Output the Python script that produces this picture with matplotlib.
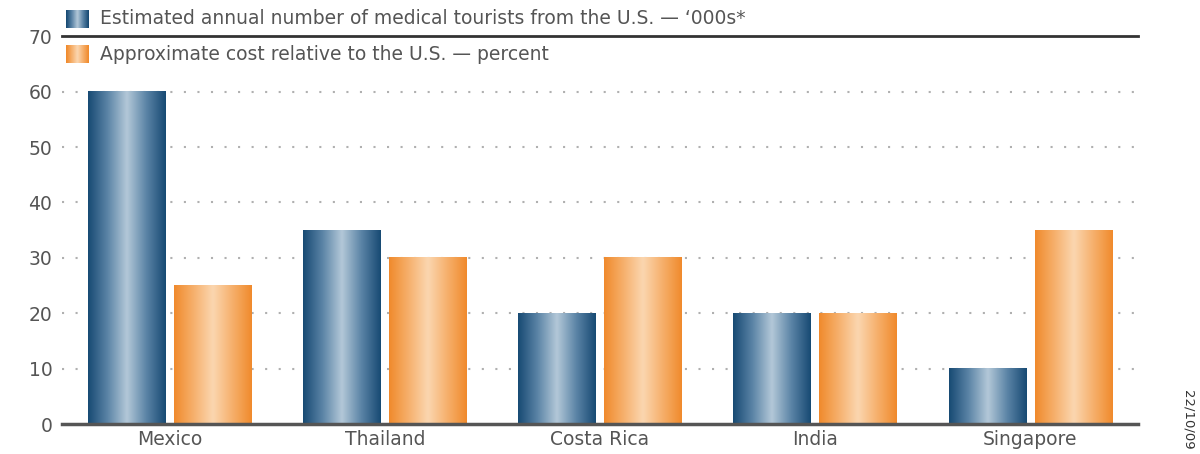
import numpy as np
import matplotlib.pyplot as plt
from matplotlib.colors import LinearSegmentedColormap

plt.rcParams['font.family'] = ['DejaVu Sans']

# Data
countries = ['Mexico', 'Thailand', 'Costa Rica', 'India', 'Singapore']
tourists_000s = [60, 35, 20, 20, 10]
cost_percent = [25, 30, 30, 20, 35]
series_labels = ["Estimated annual number of medical tourists from the U.S. \u2014 \u2018000s*",
                 "Approximate cost relative to the U.S. \u2014 percent"]

# Shaded "cylinder" colour maps
blue_cmap = LinearSegmentedColormap.from_list('blue', ['#174a73', '#5b84a6', '#b3c8d8', '#5b84a6', '#174a73'])
orange_cmap = LinearSegmentedColormap.from_list('orange', ['#f08a2c', '#f6b06c', '#fbd6b0', '#f6b06c', '#f08a2c'])
grad = np.linspace(0, 1, 256).reshape(1, -1)


def shade_bars(ax, bars, cmap):
    for b in bars:
        x0, w, h = b.get_x(), b.get_width(), b.get_height()
        ax.imshow(grad, cmap=cmap, aspect='auto', extent=(x0, x0 + w, 0, h),
                  zorder=3, interpolation='bicubic')
        b.set_visible(False)


fig = plt.figure(figsize=(12, 4.54), dpi=100)
ax = fig.add_axes([0.0517, 0.066, 0.8966, 0.8541])

x = np.arange(len(countries))
width = 0.36
offset = 0.2
b1 = ax.bar(x - offset, tourists_000s, width)
b2 = ax.bar(x + offset, cost_percent, width)
shade_bars(ax, b1, blue_cmap)
shade_bars(ax, b2, orange_cmap)

ax.set_xlim(-0.5, len(countries) - 0.5)
ax.set_ylim(0, 70)
ax.set_yticks(range(0, 71, 10))
ax.set_xticks(x)
ax.set_xticklabels(countries)
ax.tick_params(axis='both', length=0, labelsize=13.5, labelcolor='#555555')
ax.tick_params(axis='x', pad=4)
ax.tick_params(axis='y', pad=7)

# dotted gridlines
for yv in range(10, 70, 10):
    ax.axhline(yv, color='#b0b0b0', linestyle=(0, (1, 5.5)), linewidth=1.5, zorder=1)
ax.axhline(70, color='#333333', linewidth=2, zorder=2, clip_on=False)

for s in ['top', 'right', 'left']:
    ax.spines[s].set_visible(False)
ax.spines['bottom'].set_color('#555555')
ax.spines['bottom'].set_linewidth(2.5)
ax.spines['bottom'].set_zorder(4)

# legend: gradient swatches + text
for i, (lab, cmap) in enumerate(zip(series_labels, [blue_cmap, orange_cmap])):
    ytop = [10, 45][i]
    sw = fig.add_axes([66 / 1200, 1 - (ytop + 18) / 454, 23 / 1200, 18 / 454])
    sw.imshow(np.linspace(0, 1, 32).reshape(1, -1), cmap=cmap, aspect='auto')
    sw.axis('off')
    fig.text(100 / 1200, 1 - (ytop + 9) / 454, lab, fontsize=13.5, color='#555555', va='center')

fig.text(1188 / 1200, 1 - 420 / 454, '22/10/09', rotation=-90, fontsize=9.5,
         color='#333333', ha='center', va='center')

fig.savefig('out.png', dpi=100)
